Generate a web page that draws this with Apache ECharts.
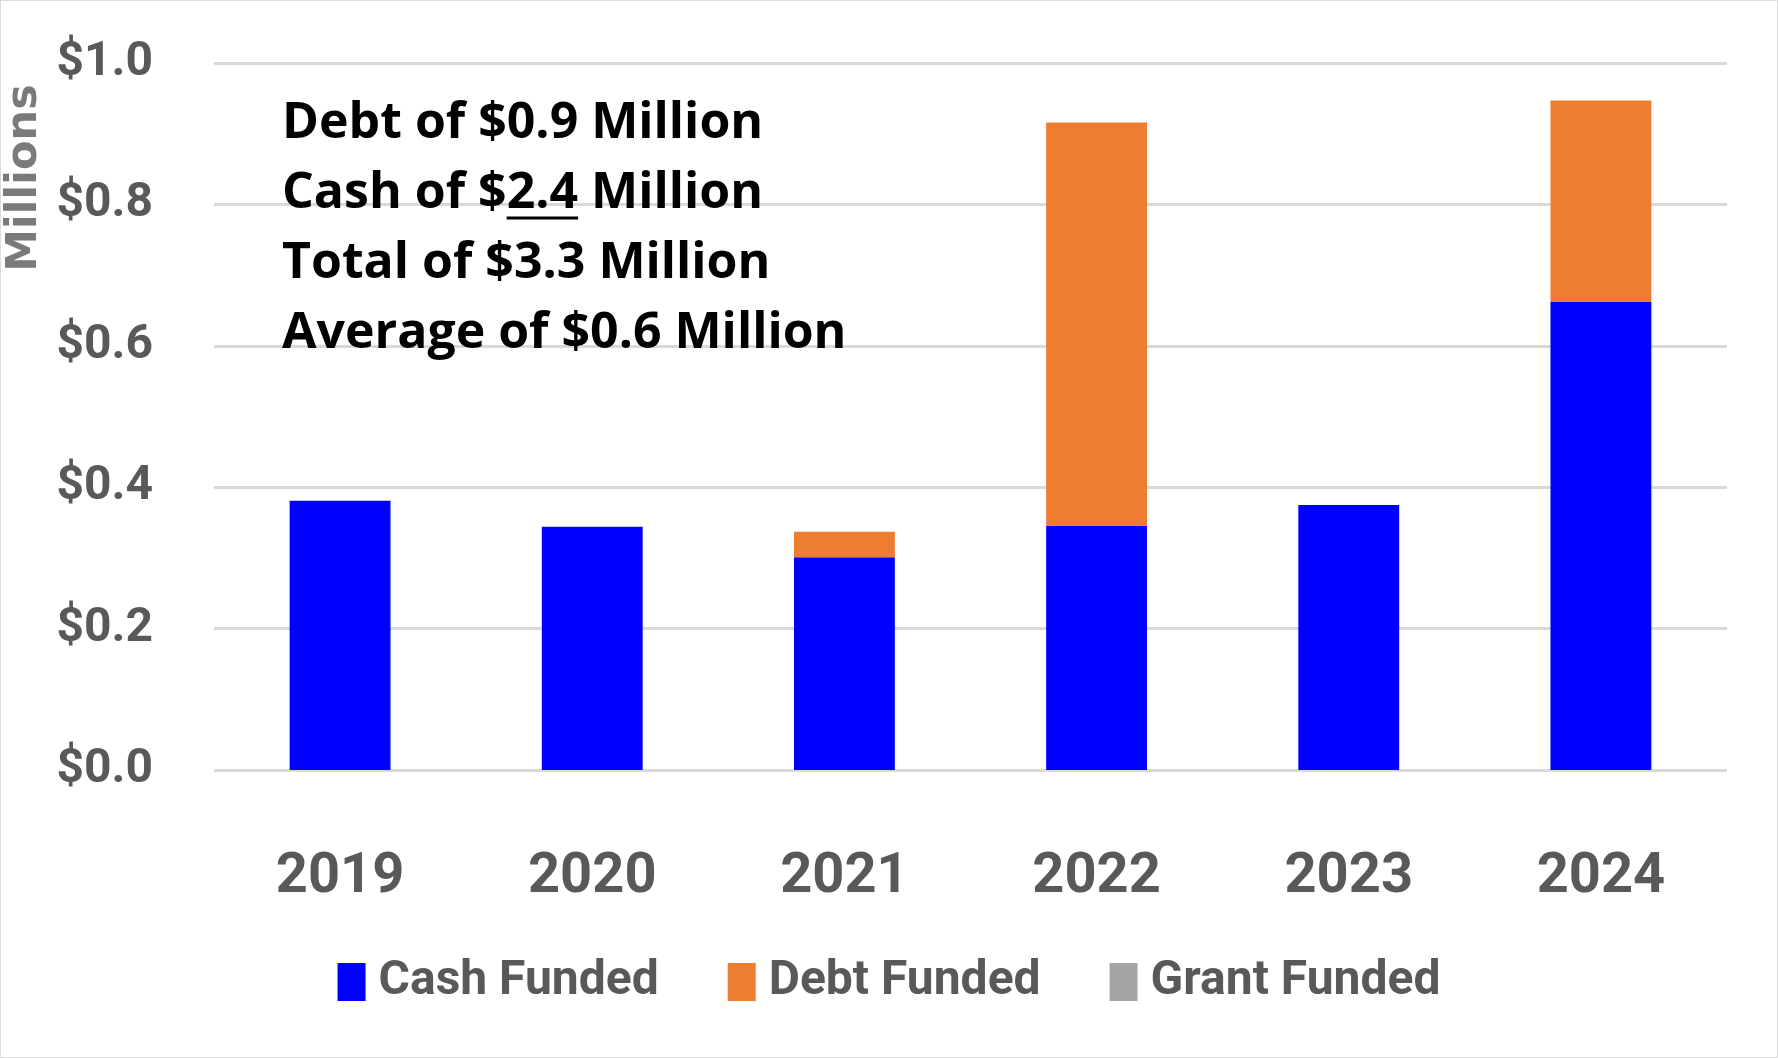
<!DOCTYPE html>
<html>
<head>
<meta charset="utf-8">
<script src="https://cdn.jsdelivr.net/npm/echarts@6/dist/echarts.min.js"></script>
<style>
html,body{margin:0;padding:0;background:#fff;}
#c{width:1778px;height:1058px;box-sizing:border-box;border:1px solid #dcdcdc;}
</style>
</head>
<body>
<div id="c"></div>
<script>
const years = ['2019','2020','2021','2022','2023','2024'];
const cashFunded  = [0.381, 0.344, 0.301, 0.345, 0.375, 0.662];
const debtFunded  = [0,     0,     0.036, 0.571, 0,     0.285];
const grantFunded = [0,     0,     0,     0,     0,     0];
const seriesNames = ['Cash Funded','Debt Funded','Grant Funded'];
const yTicks = [0, 0.2, 0.4, 0.6, 0.8, 1.0];
const noteLines = ['Debt of $0.9 Million', 'Cash of $2.4 Million', 'Total of $3.3 Million', 'Average of $0.6 Million'];

const AXFONT = "Roboto, 'Liberation Sans', sans-serif";
const NOTE_FONT = "'Open Sans', sans-serif";
const gray = '#595959';

const chart = echarts.init(document.getElementById('c'), null, {renderer:'canvas'});

// underline position for "2.4"
const NOTE_SIZE = 50;
const cv = document.createElement('canvas').getContext('2d');
cv.font = "bold " + NOTE_SIZE + "px 'Open Sans'";
const noteX = 281, noteC0 = 122.5, noteDY = 70;
const pre = cv.measureText('Cash of $').width;
const und = cv.measureText('2.4').width;

const graphics = noteLines.map((t, i) => ({
  type: 'text', x: noteX, y: noteC0 + i*noteDY, z: 100,
  style: { text: t, font: "bold " + NOTE_SIZE + "px " + NOTE_FONT, fill: '#000', verticalAlign: 'middle', align: 'left' }
}));
graphics.push({
  type: 'rect', z: 100, shape: { x: noteX + pre, y: noteC0 + noteDY + 23, width: und, height: 3 },
  style: { fill: '#000' }
});
graphics.push({
  type: 'text', x: 24, y: 177, rotation: Math.PI/2, z: 100,
  style: { text: 'Millions', font: "bold 43px 'DejaVu Sans', sans-serif", fill: '#7a7a7a', align: 'center', verticalAlign: 'middle' }
});

chart.setOption({
  animation: false,
  grid: { left: 213, right: 50, top: 62, bottom: 287 },
  legend: {
    data: seriesNames, top: 952, left: 'center',
    itemWidth: 28, itemHeight: 38, itemGap: 69, icon: 'rect',
    textStyle: { fontFamily: AXFONT, fontWeight: 'bold', fontSize: 48, lineHeight: 48, color: gray, padding: [0,0,0,8] }
  },
  xAxis: {
    type: 'category', data: years,
    axisLine: { show: false }, axisTick: { show: false },
    axisLabel: { margin: 80, fontFamily: AXFONT, fontWeight: 'bold', fontSize: 56, color: gray }
  },
  yAxis: {
    type: 'value', min: yTicks[0], max: yTicks[yTicks.length-1], interval: 0.2,
    axisLine: { show: false }, axisTick: { show: false },
    splitLine: { lineStyle: { color: '#d9d9d9', width: 3 } },
    axisLabel: { margin: 61, fontFamily: AXFONT, fontWeight: 'bold', fontSize: 48, color: gray,
      formatter: v => '$' + v.toFixed(1) }
  },
  series: [
    { name: seriesNames[0], type: 'bar', stack: 'f', data: cashFunded, barWidth: '40%', itemStyle: { color: '#0000FF' } },
    { name: seriesNames[1], type: 'bar', stack: 'f', data: debtFunded, itemStyle: { color: '#ED7D31' } },
    { name: seriesNames[2], type: 'bar', stack: 'f', data: grantFunded, itemStyle: { color: '#A5A5A5' } }
  ],
  graphic: graphics
});
</script>
</body>
</html>
